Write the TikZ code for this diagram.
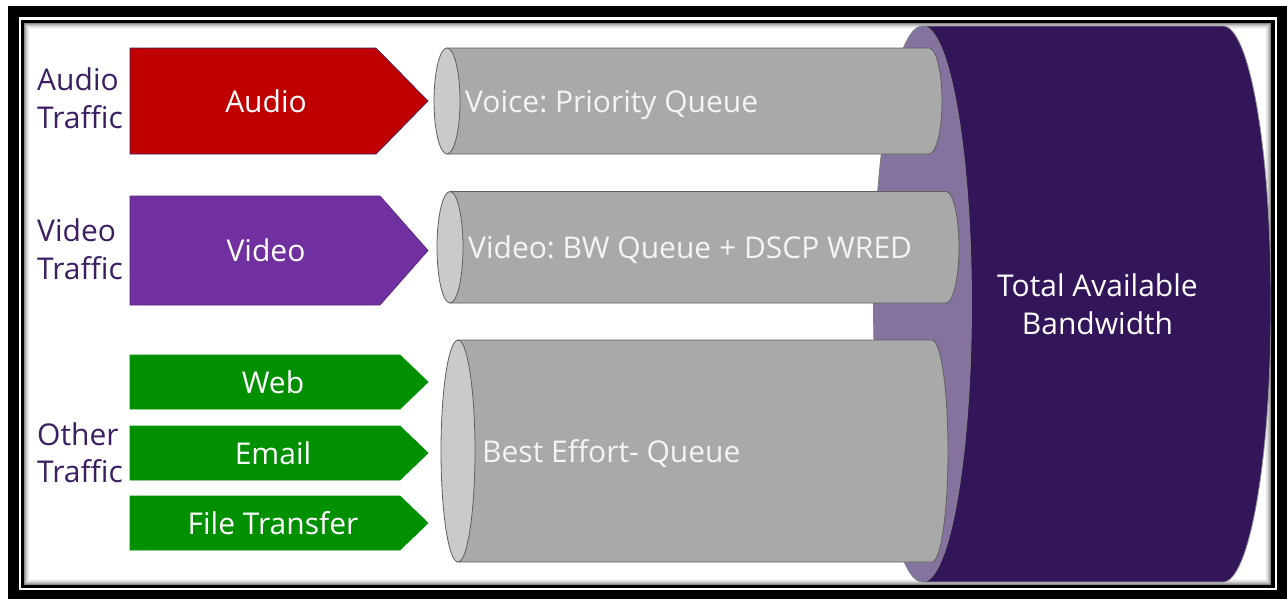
\documentclass[tikz,border=0pt]{standalone}
\usepackage{fontspec}
\setmainfont{Open Sans}
\frenchspacing
\definecolor{audiored}{HTML}{C00000}
\definecolor{videopurple}{HTML}{7030A0}
\definecolor{othergreen}{HTML}{009000}
\definecolor{labelpurple}{HTML}{3B1F62}
\definecolor{pipegray}{HTML}{A9A9A9}
\definecolor{pipeface}{HTML}{CACACA}
\definecolor{pipeline}{HTML}{5F5F5F}
\definecolor{bwdark}{HTML}{33155A}
\definecolor{bwface}{HTML}{85739F}
\definecolor{textwhite}{HTML}{F4F4F4}

\tikzset{
  txt/.style={font=\fontsize{30}{38}\selectfont, inner sep=0pt, anchor=base},
  grouplabel/.style={txt, text=labelpurple, anchor=base west},
  tagtext/.style={txt, text=white},
  pipetext/.style={txt, text=textwhite, anchor=base west},
  drumtext/.style={txt, text=white},
  pipebody/.style={fill=pipegray, draw=pipeline, line width=0.8pt},
  pipeend/.style={fill=pipeface, draw=pipeline, line width=0.8pt},
}

% tag arrow: left x, top y, bottom y, shoulder x, tip x, fill colour, outline
\newcommand\tagshape[7]{%
  \path[fill=#6,draw=#7,line width=0.7pt]
    (#1,#2) -- (#4,#2) -- (#5,{(#2+#3)/2}) -- (#4,#3) -- (#1,#3) -- cycle;}

% queue pipe: left-face centre x, top y, bottom y, right x (start of round end), left rx, right rx
\newcommand\queuepipe[6]{%
  \path[pipebody] (#1,#2) -- (#4,#2)
     arc[start angle=90, end angle=-90, x radius=#6 pt, y radius={(#3-#2)/2*1pt}]
     -- (#1,#3) -- cycle;
  \path[pipeend] (#1,{(#2+#3)/2}) ellipse [x radius=#5 pt, y radius={(#3-#2)/2*1pt}];}

\begin{document}
\begin{tikzpicture}[x=1pt, y=-1pt]
  \useasboundingbox (0,0) rectangle (1287,598);

  % double black frame
  \fill[white] (0,0) rectangle (1287,598);
  \fill[black] (8,6) rectangle (1288,601);
  \fill[white] (19,17) rectangle (1277,590);
  \fill[black] (21,19.5) rectangle (1274.5,587.5);
  \fill[white] (24,22.5) rectangle (1271,585);
  % soft inner shadow
  \foreach \o/\a in {0.5/0.45, 1.5/0.32, 2.5/0.22, 3.5/0.14, 4.5/0.08, 5.5/0.04}{
    \draw[black, opacity=\a, line width=1pt] (24+\o,22.5+\o) rectangle (1271-\o,585-\o);
  }

  \begin{scope}
    \clip (24,22.5) rectangle (1271,585);

    % total bandwidth drum
    \path[fill=bwdark, draw=pipeline!70, line width=0.8pt]
      (922.5,26) -- (1223,26)
      arc[start angle=90, end angle=-90, x radius=48pt, y radius=278pt]
      -- (922.5,582) -- cycle;
    \path[fill=bwface, draw=pipeline!80, line width=0.8pt]
      (922.5,304) ellipse [x radius=49pt, y radius=278pt];
    \node[drumtext] (total1) at (1097.5,296) {Total Available};
    \node[drumtext] (total2) at (1097.5,334) {Bandwidth};

    % queues
    \queuepipe{447}{48}{154}{929}{13}{13}
    \queuepipe{450}{191.5}{303}{946}{13}{13}
    \queuepipe{458}{340}{562}{932}{17}{16}
    \node[pipetext] (voiceq) at (465,112) {Voice: Priority Queue};
    \node[pipetext] (videoq) at (468,258) {Video: BW Queue + DSCP WRED};
    \node[pipetext] (bestq)  at (482,462) {Best Effort- Queue};

    % traffic tags
    \tagshape{130}{48}{154}{376}{428}{audiored}{labelpurple}
    \tagshape{130}{196}{305}{380}{428}{videopurple}{videopurple!80!black}
    \tagshape{130}{355}{409}{400}{428}{othergreen}{othergreen}
    \tagshape{130}{426}{480}{400}{428}{othergreen}{othergreen}
    \tagshape{130}{496}{550}{400}{428}{othergreen}{othergreen}
    \node[tagtext] (audio) at (266,112) {Audio};
    \node[tagtext] (video) at (266,261) {Video};
    \node[tagtext] (web)   at (273,393.5) {Web};
    \node[tagtext] (email) at (273,464) {Email};
    \node[tagtext] (file)  at (273,534) {File Transfer};

    % group labels
    \node[grouplabel] (audiolbl1) at (37,90)  {Audio};
    \node[grouplabel] (audiolbl2) at (37,128) {Traffic};
    \node[grouplabel] (videolbl1) at (37,241) {Video};
    \node[grouplabel] (videolbl2) at (37,279) {Traffic};
    \node[grouplabel] (otherlbl1) at (37,445) {Other};
    \node[grouplabel] (otherlbl2) at (37,482) {Traffic};
  \end{scope}
\end{tikzpicture}
\end{document}
